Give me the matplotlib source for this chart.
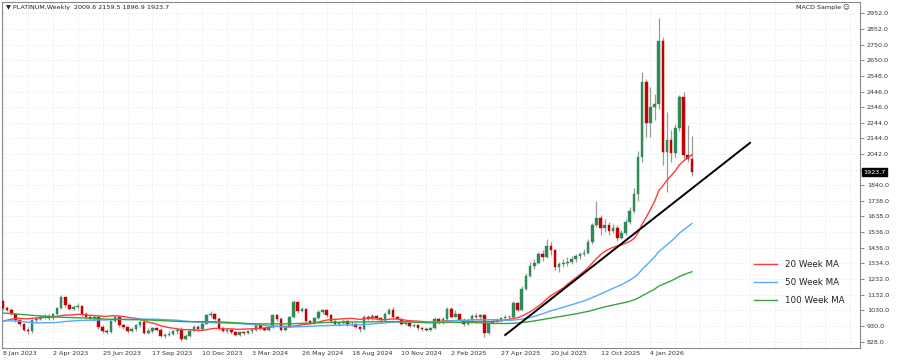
import numpy as np
import pandas as pd
import matplotlib
matplotlib.use("Agg")
import matplotlib.pyplot as plt
import matplotlib.transforms as mtransforms
from matplotlib.lines import Line2D

START_WEEK = "2023-01-08"

# weekly closes, 8 Jan 2023 .. 15 Mar 2026 (one row ~ a quarter)
closes = [
    1045, 1035, 1010, 965, 940, 905, 895, 965, 975, 985, 995, 980,
    1005, 1045, 1115, 1065, 1040, 1050, 1060, 1005, 990, 975, 985, 920,
    895, 888, 960, 985, 935, 920, 900, 910, 935, 958, 885, 895,
    915, 905, 862, 870, 880, 895, 905, 842, 865, 900, 925, 910,
    945, 1000, 1010, 975, 915, 900, 905, 890, 872, 890, 885, 895,
    905, 935, 915, 905, 920, 1000, 975, 905, 925, 985, 1085, 1025,
    1040, 960, 950, 980, 1020, 1030, 1000, 960, 945, 950, 960, 945,
    940, 925, 910, 990, 975, 995, 980, 965, 1010, 1030, 985, 975,
    945, 950, 930, 935, 915, 910, 905, 915, 975, 955, 975, 1040,
    990, 1005, 970, 940, 965, 995, 990, 1000, 885, 950, 960, 965,
    980, 990, 985, 1075, 1035, 1170, 1255, 1320, 1340, 1395, 1375, 1445,
    1420, 1310, 1330, 1340, 1345, 1360, 1380, 1395, 1400, 1470, 1580, 1630,
    1560, 1585, 1545, 1565, 1500, 1530, 1600, 1670, 1780, 2025, 2510, 2240,
    2348, 2365, 2770, 2057, 2133, 2046, 2208, 2409, 2036, 2009.6, 1923.7,
]
highs = [
    1100, 1060, 1045, 1000, 975, 950, 925, 975, 990, 1000, 1010, 1005,
    1015, 1055, 1130, 1120, 1080, 1065, 1080, 1065, 1020, 1000, 1000, 990,
    935, 910, 970, 995, 990, 945, 925, 925, 945, 970, 965, 915,
    925, 925, 915, 885, 895, 905, 915, 925, 880, 910, 935, 935,
    955, 1010, 1025, 1015, 985, 925, 915, 910, 900, 900, 900, 905,
    915, 945, 940, 925, 930, 1010, 1005, 985, 935, 995, 1095, 1090,
    1055, 1045, 970, 990, 1030, 1040, 1035, 1010, 965, 960, 970, 965,
    955, 950, 930, 1000, 1000, 1005, 1000, 985, 1020, 1045, 1055, 995,
    980, 960, 955, 945, 940, 925, 920, 925, 985, 980, 985, 1050,
    1050, 1030, 1010, 980, 975, 1005, 1015, 1010, 1005, 960, 975, 980,
    990, 1000, 1000, 1090, 1085, 1185, 1270, 1345, 1365, 1410, 1420, 1490,
    1470, 1425, 1345, 1365, 1375, 1385, 1395, 1410, 1425, 1490, 1595, 1740,
    1650, 1620, 1600, 1590, 1580, 1550, 1620, 1700, 1820, 2060, 2575, 2530,
    2478, 2430, 2920, 2800, 2316, 2200, 2235, 2425, 2445, 2230, 2159.5,
]
lows = [
    1035, 1025, 1000, 955, 930, 895, 880, 885, 955, 965, 975, 965,
    970, 1000, 1040, 1050, 1030, 1030, 1040, 995, 975, 965, 960, 910,
    885, 875, 885, 955, 925, 910, 885, 890, 900, 925, 875, 875,
    885, 895, 855, 850, 865, 870, 880, 835, 840, 860, 895, 900,
    905, 940, 990, 965, 905, 890, 885, 880, 865, 865, 870, 875,
    885, 900, 905, 895, 900, 915, 960, 895, 900, 920, 980, 1015,
    1020, 950, 940, 945, 975, 1010, 990, 950, 935, 930, 940, 930,
    930, 915, 890, 905, 965, 970, 970, 950, 960, 1005, 975, 965,
    935, 935, 920, 920, 905, 895, 895, 900, 910, 945, 945, 965,
    980, 985, 960, 930, 935, 960, 980, 975, 860, 880, 945, 950,
    955, 970, 970, 975, 1025, 1030, 1160, 1245, 1300, 1330, 1350, 1370,
    1390, 1290, 1280, 1310, 1320, 1330, 1345, 1365, 1380, 1395, 1460, 1570,
    1520, 1540, 1520, 1530, 1480, 1490, 1520, 1590, 1660, 1740, 1990, 2150,
    2154, 2260, 2330, 1971, 1798, 1990, 2020, 2190, 2010, 1992, 1896.9,
]
first_open = 1090

# closes of the 99 weeks before the chart, only used to seed the moving averages
prior_closes = [
    1180, 1230, 1200, 1150, 1120, 1170, 1160, 1150, 1180, 1170, 1190, 1180, 1190,
    1210, 1190, 1150, 1150, 1140, 1120, 1040, 1070, 1080, 1090, 1060, 1050, 1030,
    1000, 1000, 990, 990, 950, 930, 950, 970, 1000, 1000, 1030, 1010, 1010,
    1020, 1060, 1020, 960, 930, 920, 940, 950, 955, 960, 970, 1020, 1000,
    1010, 1020, 1070, 1050, 1090, 1040, 1010, 980, 970, 980, 990, 920, 930,
    960, 950, 945, 950, 970, 935, 920, 915, 885, 870, 890, 885, 895,
    925, 945, 900, 880, 890, 920, 940, 915, 890, 930, 945, 960, 945,
    965, 1000, 1010, 1000, 1030, 1020, 1000, 1020,
]

ma_periods = [20, 50, 100]
ma_labels = ["20 Week MA", "50 Week MA", "100 Week MA"]
ma_colors = ["#ff3b3b", "#55aaff", "#3aa33a"]

# hand drawn trend line (week index, price)
trend_weeks = [121.0, 180.0]
trend_prices = [871, 2114]

price_ticks = [2952, 2852, 2750, 2650, 2548, 2446, 2346, 2244, 2144, 2042,
               1940, 1840, 1738, 1638, 1536, 1436, 1334, 1232, 1132, 1030, 930, 828]

BULL = "#2e8b57"
BEAR = "#c40000"
WICK = "#9a9a9a"
GRID = "#dfe5f1"


def main():
    n = len(closes)
    weeks = np.arange(n)
    dates = pd.date_range(START_WEEK, periods=n, freq="7D")
    o = np.array([first_open] + closes[:-1], dtype=float)
    c = np.array(closes, dtype=float)
    h = np.array(highs, dtype=float)
    l = np.array(lows, dtype=float)

    fig = plt.figure(figsize=(9, 3.6), dpi=100)
    ax = fig.add_axes([2 / 900, 12 / 360, 858 / 900, 346 / 360])
    ax.set_xlim(-0.25, 206.5)
    ax.set_ylim(787, 3025)

    # grid
    ax.set_xticks(np.arange(0, 207, 12))
    ax.set_xticks(np.arange(6, 207, 12), minor=True)
    labels = []
    for t in np.arange(0, 207, 12):
        if t < n:
            d = dates[t]
            labels.append(f"{d.day} {d:%b %Y}")
        else:
            labels.append("")
    ax.set_xticklabels(labels, fontsize=4.6, color="#333333", ha="left")
    ax.tick_params(axis="x", which="both", length=0, pad=2)
    ax.set_yticks(price_ticks)
    ax.set_yticklabels(["" if p == 1940 else f"{p:.1f}" for p in price_ticks],
                       fontsize=4.6, color="#333333")
    ax.yaxis.tick_right()
    ax.tick_params(axis="y", length=3, width=0.6, color="#777777", pad=2)
    ax.grid(True, which="both", axis="x", color=GRID, lw=0.6, ls=(0, (1.5, 2.5)))
    ax.grid(True, which="major", axis="y", color=GRID, lw=0.6, ls=(0, (1.5, 2.5)))
    ax.set_axisbelow(True)
    for s in ax.spines.values():
        s.set_color("#8a8a8a")
        s.set_linewidth(0.8)

    # candles
    up = c >= o
    ax.vlines(weeks, l, h, color=WICK, lw=0.9, zorder=2)
    body_low = np.minimum(o, c)
    body_h = np.maximum(np.abs(c - o), 4)
    ax.bar(weeks[up], body_h[up], bottom=body_low[up], width=0.62,
           color=BULL, edgecolor=BULL, lw=0.3, zorder=3)
    ax.bar(weeks[~up], body_h[~up], bottom=body_low[~up], width=0.62,
           color=BEAR, edgecolor=BEAR, lw=0.3, zorder=3)

    # moving averages
    full = pd.Series(prior_closes + closes, dtype=float)
    handles = []
    for p, lab, col in zip(ma_periods, ma_labels, ma_colors):
        ma = full.rolling(p).mean().to_numpy()[-n:]
        ax.plot(weeks, ma, color=col, lw=1.0, zorder=4)
        handles.append(Line2D([], [], color=col, lw=1.0))

    ax.plot(trend_weeks, trend_prices, color="black", lw=1.4, zorder=5)

    leg = ax.legend(handles, ma_labels, loc="upper left",
                    bbox_to_anchor=(0.872, 0.265), frameon=False,
                    fontsize=6.3, handlelength=2.7, handletextpad=0.9,
                    labelspacing=1.05, borderaxespad=0)
    for t in leg.get_texts():
        t.set_color("#222222")

    # current price box on the scale
    trans = mtransforms.blended_transform_factory(ax.transAxes, ax.transData)
    ax.text(1.004, c[-1], f"{c[-1]:.1f}", transform=trans, ha="left", va="center",
            fontsize=4.6, color="white", zorder=10, clip_on=False,
            bbox=dict(boxstyle="square,pad=0.25", fc="black", ec="black"))

    head = f"\u25BC PLATINUM,Weekly  {o[-1]:.1f} {h[-1]:.1f} {l[-1]:.1f} {c[-1]:.1f}"
    fig.text(6 / 900, 1 - 7 / 360, head, fontsize=4.6, color="#222222",
             ha="left", va="center")
    fig.text(850 / 900, 1 - 7 / 360, "MACD Sample \u263A", fontsize=4.6,
             color="#222222", ha="right", va="center")

    fig.savefig("out.png", dpi=100, facecolor="white")


if __name__ == "__main__":
    main()
